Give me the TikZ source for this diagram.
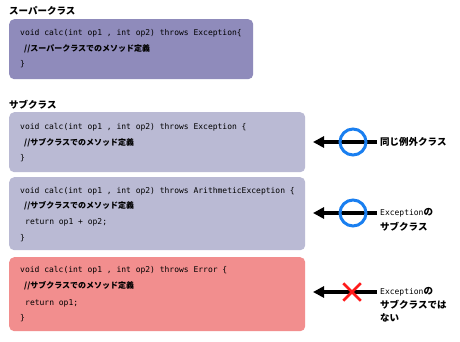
\documentclass[tikz,border=0pt]{standalone}
\usepackage{fontspec}
\setmainfont{DejaVu Sans}
\newfontfamily\cjk{Noto Sans CJK JP}
\newfontfamily\mono{DejaVu Sans Mono}
\newcommand{\latword}[1]{{\mono\mdseries\fontsize{8}{10}\selectfont #1}}
\usetikzlibrary{arrows.meta,shapes.misc}
\definecolor{superfill}{HTML}{8F8BBB}
\definecolor{subfill}{HTML}{BABAD4}
\definecolor{errfill}{HTML}{F28E8E}
\definecolor{okblue}{HTML}{1A7FF0}
\definecolor{ngred}{HTML}{FF1A1A}
\begin{document}
\begin{tikzpicture}[x=1pt,y=-1pt,
  codebox/.style={draw=none, rounded corners=5pt, anchor=north west, inner sep=0pt, shape=rectangle},
  code/.style={anchor=west, inner sep=0pt, font=\mono\fontsize{8}{10}\selectfont},
  jcode/.style={anchor=west, inner sep=0pt, font=\cjk\bfseries\fontsize{8}{10}\selectfont},
  title/.style={anchor=west, inner sep=0pt, font=\cjk\bfseries\fontsize{9.5}{12}\selectfont},
  lab/.style={anchor=west, inner ysep=0pt, inner xsep=3pt, font=\cjk\bfseries\fontsize{9.5}{12}\selectfont},
  arr/.style={line width=3.5pt, -{Triangle[length=11pt,width=11pt]}},
  okmark/.style={draw=okblue, line width=3pt, circle, minimum size=26pt, inner sep=0pt},
  ngmark/.style={draw=ngred, cross out, line width=2.5pt, minimum size=15pt, inner sep=0pt}
]
\useasboundingbox[fill=white] (0,0) rectangle (460,342);

% titles
\node[title] (tsup) at (9,11) {スーパークラス};
\node[title] (tsub) at (9,105) {サブクラス};

% superclass box
\node[codebox, fill=superfill, minimum width=244pt, minimum height=60pt] (sup) at (9,19) {};
\node[code] (s1) at (20,33) {void calc(int op1 , int op2) throws Exception\{};
\node[jcode] (s2) at (24,49) {//スーパークラスでのメソッド定義};
\node[code] (s3) at (20,64) {\}};

% subclass box 1
\node[codebox, fill=subfill, minimum width=296pt, minimum height=60pt] (b1) at (9,112) {};
\node[code] (a1) at (20,127) {void calc(int op1 , int op2) throws Exception \{};
\node[jcode] (a2) at (24,143) {//サブクラスでのメソッド定義};
\node[code] (a3) at (20,158) {\}};

% subclass box 2
\node[codebox, fill=subfill, minimum width=296pt, minimum height=73pt] (b2) at (9,177) {};
\node[code] (c1) at (20,191) {void calc(int op1 , int op2) throws ArithmeticException \{};
\node[jcode] (c2) at (24,206) {//サブクラスでのメソッド定義};
\node[code] (c3) at (25,222) {return op1 + op2;};
\node[code] (c4) at (20,238) {\}};

% subclass box 3
\node[codebox, fill=errfill, minimum width=296pt, minimum height=74pt] (b3) at (9,257) {};
\node[code] (d1) at (20,270) {void calc(int op1 , int op2) throws Error \{};
\node[jcode] (d2) at (24,286) {//サブクラスでのメソッド定義};
\node[code] (d3) at (25,303) {return op1;};
\node[code] (d4) at (20,318) {\}};

% labels
\node[lab] (l1) at (377,142) {同じ例外クラス};
\node[lab] (l2) at (377,213) {\latword{Exception}の};
\node[lab] (l2b) at (377,227) {サブクラス};
\node[lab] (l3) at (377,292) {\latword{Exception}の};
\node[lab] (l3b) at (377,305) {サブクラスでは};
\node[lab] (l3c) at (377,318) {ない};

% arrow tips
\coordinate (t1) at (313,142);
\coordinate (t2) at (313,213);
\coordinate (t3) at (313,292);

\draw[arr] (l1.west) -- (t1);
\draw[arr] (l2.west) -- (t2);
\draw[arr] (l3.west) -- (t3);

\node[okmark] (m1) at (353,142) {};
\node[okmark] (m2) at (353,213) {};
\node[ngmark] (m3) at (352,292) {};
\end{tikzpicture}
\end{document}
